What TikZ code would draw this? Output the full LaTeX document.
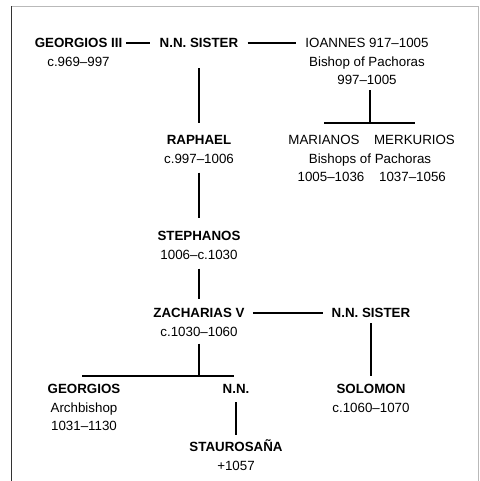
\documentclass[tikz,border=0pt]{standalone}
\usepackage{fontspec}
\setmainfont{Liberation Sans}
\usetikzlibrary{positioning}
\tikzset{
  person/.style={font=\bfseries, inner sep=0pt, text height=7.2pt, text depth=0pt},
  info/.style={inner sep=0pt, text height=7.2pt, text depth=0pt},
  link/.style={line width=0.9pt},
}
\begin{document}
\begin{tikzpicture}[node distance=13.9pt, on grid, x=0.75pt, y=-0.75pt]
  \useasboundingbox (0,0) rectangle (479,481);
  \draw[gray!55, line width=0.75pt] (11.5,6.5) -- (478,6.5) -- (478,481);
  \draw[black!80, line width=0.9pt] (11.5,6.5) -- (11.5,481);

  \node[person] (g3) at (78.5,43) {GEORGIOS III};
  \node[info] (g3yr) [below=of g3] {c.969–997};
  \node[person] (sis1) at (199,43) {N.N. SISTER};
  \node[info] (ioan) at (367,43) {IOANNES 917–1005};
  \node[info] (ioanjob) [below=of ioan] {Bishop of Pachoras};
  \node[info] (ioanyr) [below=of ioanjob] {997–1005};

  \node[person] (raph) at (199,140) {RAPHAEL};
  \node[info] (raphyr) [below=of raph] {c.997–1006};
  \node[info] (mari) at (324,140) {MARIANOS};
  \node[info] (merk) at (414.5,140) {MERKURIOS};
  \node[info] (bishops) at (370,158.5) {Bishops of Pachoras};
  \node[info] (mariyr) at (331,177) {1005–1036};
  \node[info] (merkyr) at (412.5,177) {1037–1056};

  \node[person] (steph) at (199,236) {STEPHANOS};
  \node[info] (stephyr) [below=of steph] {1006–c.1030};

  \node[person] (zach) at (199,313) {ZACHARIAS V};
  \node[info] (zachyr) [below=of zach] {c.1030–1060};
  \node[person] (sis2) at (371,313) {N.N. SISTER};

  \node[person] (gorg) at (84,389) {GEORGIOS};
  \node[info] (gorgjob) [below=of gorg] {Archbishop};
  \node[info] (gorgyr) [below=of gorgjob] {1031–1130};
  \node[person] (nn) at (236,389) {N.N.};
  \node[person] (solomon) at (371,389) {SOLOMON};
  \node[info] (solomonyr) [below=of solomon] {c.1060–1070};

  \node[person] (stau) at (236,447) {STAUROSAÑA};
  \node[info] (stauyr) [below=of stau] {+1057};

  \coordinate (ibar) at (370,123);
  \coordinate (zbar) at (199,376);

  \path[link]
    (g3) edge[shorten <=3pt, shorten >=6.75pt] (sis1)
    (sis1) edge[shorten <=6.75pt, shorten >=6.75pt] (ioan)
    (sis1) edge[shorten <=15pt, shorten >=9pt] (raph)
    (raphyr) edge[shorten <=6.75pt, shorten >=9.75pt] (steph)
    (stephyr) edge[shorten <=6.75pt, shorten >=6.75pt] (zach)
    (zach) edge[shorten <=6pt, shorten >=6pt] (sis2)
    (sis2) edge[shorten <=4pt, shorten >=6pt] (solomon)
    (nn) edge[shorten <=6pt, shorten >=5.25pt] (stau)
    ;
  \draw[link, shorten <=3.75pt] (ibar |- ioanyr.south) -- (ibar);
  \draw[link] (mari.north |- ibar) -- (merk.north |- ibar);
  \draw[link, shorten <=5.25pt] (zachyr.south) -- (zbar);
  \draw[link] ([xshift=-1.5pt]gorg.north |- zbar) -- ([xshift=-1.5pt]nn.north |- zbar);
\end{tikzpicture}
\end{document}
